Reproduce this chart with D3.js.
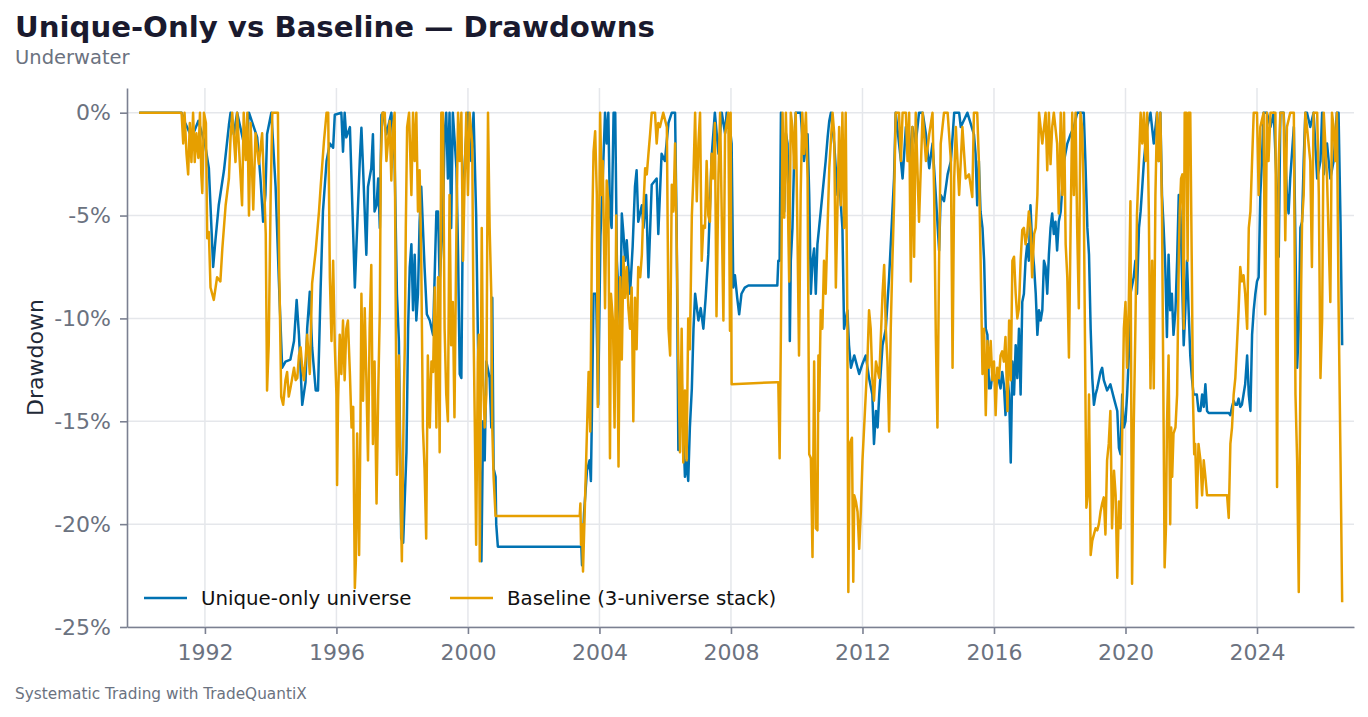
<!DOCTYPE html>
<html>
<head>
  <meta charset="UTF-8" />
  <title>Unique-Only vs Baseline — Drawdowns</title>
  <style>
    body {
      margin: 0;
      background: #ffffff;
      font-family: "DejaVu Sans", sans-serif;
    }

    .grid line {
      stroke: #e5e7eb;
      stroke-width: 1.5;
    }

    .axis path,
    .axis line {
      stroke: #7b8091;
      stroke-width: 1.6;
    }

    .axis text {
      fill: #6b7280;
      font-size: 22px;
      font-family: "DejaVu Sans", sans-serif;
    }

    .dd-line {
      fill: none;
      stroke-width: 2.5;
      stroke-linejoin: round;
    }
  </style>
</head>

<body>
  <svg id="chart" width="1368" height="717"></svg>

  <script src="https://d3js.org/d3.v7.min.js"></script>
  <script>
    // données : [année décimale, drawdown en %]
    const uniqueOnly = [
      [1990.00, 0], [1991.29, 0], [1991.40, -0.5], [1991.60, -1.2], [1991.80, -0.4], [1992.00, -1.5],
      [1992.12, -2.7], [1992.25, -7.5], [1992.32, -6.2], [1992.42, -4.5], [1992.58, -2.8], [1992.73, -0.6],
      [1992.78, 0], [1992.88, -1.05], [1992.98, 0], [1993.24, -1.9], [1993.34, 0], [1993.59, -1.2],
      [1993.69, -3.2], [1993.77, -5.3], [1993.84, -4.0], [1993.89, -1.05], [1994.02, 0], [1994.15, -3.6],
      [1994.25, -8.2], [1994.35, -12.4], [1994.45, -12.1], [1994.60, -12.0], [1994.71, -11.1], [1994.79, -9.1],
      [1994.86, -10.8], [1994.96, -14.2], [1995.06, -13.1], [1995.11, -10.5], [1995.19, -8.7], [1995.26, -11.4],
      [1995.37, -13.5], [1995.44, -13.5], [1995.52, -8.5], [1995.59, -4.8], [1995.70, -2.35], [1995.80, -1.5],
      [1995.90, -1.7], [1995.95, -0.1], [1996.15, 0], [1996.20, -1.9], [1996.25, 0], [1996.30, -1.2],
      [1996.41, -0.7], [1996.46, -3.3], [1996.51, -5.9], [1996.56, -8.5], [1996.61, -6.4], [1996.71, -2.35],
      [1996.76, -0.73], [1996.81, -2.7], [1996.91, -6.9], [1996.96, -3.6], [1997.06, -2.7], [1997.11, -1.05],
      [1997.16, -4.8], [1997.22, -4.5], [1997.27, -3.2], [1997.32, -5.6], [1997.37, -0.1], [1997.42, 0],
      [1997.52, -1.05], [1997.67, 0], [1997.77, -2.35], [1997.84, -8.8], [1997.90, -11.1], [1997.97, -20.7],
      [1998.03, -20.9], [1998.13, -16.5], [1998.18, -10.5], [1998.23, -7.5], [1998.28, -6.4], [1998.33, -9.6],
      [1998.38, -6.9], [1998.43, -10.1], [1998.48, -8.8], [1998.53, -5.3], [1998.58, -3.6], [1998.68, -7.5],
      [1998.75, -9.8], [1998.84, -10.1], [1998.94, -10.8], [1999.04, -4.8], [1999.09, -4.8], [1999.14, -8.2],
      [1999.24, -5.1], [1999.29, -1.05], [1999.34, 0], [1999.39, -3.2], [1999.44, 0], [1999.49, -5.6],
      [1999.54, 0], [1999.65, -2.7], [1999.70, -6.9], [1999.75, -12.7], [1999.80, -12.9], [1999.85, -4.0],
      [1999.95, -1.05], [2000.00, 0], [2000.10, -2.35], [2000.17, 0], [2000.25, -5.0], [2000.33, -14.0],
      [2000.41, -21.8], [2000.46, -15.0], [2000.51, -16.9], [2000.56, -12.1], [2000.66, -12.9], [2000.71, -15.3],
      [2000.74, -9.0], [2000.78, -17.3], [2000.84, -17.7], [2000.86, -20.0], [2000.91, -21.1], [2003.45, -21.1],
      [2003.47, -22.0], [2003.53, -19.5], [2003.62, -17.4], [2003.70, -16.9], [2003.74, -17.9], [2003.77, -14.7],
      [2003.82, -8.8], [2003.90, -8.8], [2003.96, -14.2], [2004.03, -6.0], [2004.10, -3.2], [2004.17, 0],
      [2004.22, -1.5], [2004.27, 0], [2004.32, -5.0], [2004.37, -5.6], [2004.43, 0], [2004.48, 0],
      [2004.53, -7.2], [2004.63, -10.5], [2004.68, -4.9], [2004.73, -5.9], [2004.78, -7.2], [2004.83, -6.2],
      [2004.93, -8.8], [2005.01, -6.5], [2005.08, -3.6], [2005.13, -2.8], [2005.18, -5.3], [2005.29, -4.5],
      [2005.34, -5.6], [2005.42, -4.0], [2005.49, -8.0], [2005.59, -3.5], [2005.74, -3.2], [2005.79, -5.9],
      [2005.89, -2.0], [2005.99, -2.35], [2006.10, -0.5], [2006.20, 0], [2006.30, 0], [2006.35, -6.0],
      [2006.40, -16.4], [2006.50, -13.0], [2006.60, -17.7], [2006.65, -16.9], [2006.70, -17.9], [2006.75, -15.3],
      [2006.81, -13.4], [2006.86, -10.5], [2006.91, -8.8], [2007.01, -10.1], [2007.08, -9.5], [2007.16, -10.5],
      [2007.23, -9.0], [2007.31, -6.9], [2007.41, -2.2], [2007.51, 0], [2007.62, -2.0], [2007.72, 0],
      [2007.82, -1.0], [2007.87, 0], [2007.95, -0.5], [2008.02, -1.5], [2008.07, -8.5], [2008.12, -7.9],
      [2008.19, -9.0], [2008.25, -9.8], [2008.32, -8.8], [2008.42, -8.5], [2008.53, -8.4], [2009.41, -8.4],
      [2009.44, -7.2], [2009.48, -7.2], [2009.52, 0], [2009.57, -1.5], [2009.62, -4.8], [2009.67, -1.0],
      [2009.72, -1.5], [2009.77, -6.0], [2009.79, -11.1], [2009.82, -7.2], [2009.87, -5.6], [2009.92, -2.35],
      [2009.97, 0], [2010.12, 0], [2010.22, -2.35], [2010.33, -1.05], [2010.38, -4.0], [2010.43, -8.8],
      [2010.48, -7.2], [2010.53, -6.6], [2010.58, -8.8], [2010.63, -6.4], [2010.68, -5.6], [2010.73, -4.8],
      [2010.78, -4.0], [2010.88, -2.35], [2010.94, -1.2], [2010.99, -0.4], [2011.04, 0], [2011.14, -1.5],
      [2011.24, -4.0], [2011.29, -3.2], [2011.39, -5.6], [2011.44, -10.5], [2011.54, -9.6], [2011.59, -11.3],
      [2011.65, -12.4], [2011.75, -11.8], [2011.80, -12.1], [2011.90, -12.7], [2012.00, -12.2], [2012.10, -11.8],
      [2012.20, -12.9], [2012.30, -13.7], [2012.35, -16.1], [2012.41, -14.5], [2012.46, -15.3], [2012.51, -13.7],
      [2012.61, -11.3], [2012.71, -10.5], [2012.81, -8.0], [2012.91, -4.8], [2012.96, -3.2], [2013.01, 0],
      [2013.17, -2.35], [2013.22, -3.2], [2013.32, -0.7], [2013.42, -2.35], [2013.52, -0.7], [2013.62, -1.5],
      [2013.72, 0], [2013.83, 0], [2013.93, -1.05], [2014.03, -2.7], [2014.13, -1.5], [2014.23, -4.0],
      [2014.33, -6.7], [2014.38, -4.0], [2014.48, -4.3], [2014.59, -3.0], [2014.69, -2.35], [2014.79, 0],
      [2014.94, 0], [2014.99, -0.7], [2015.19, 0], [2015.39, -1.05], [2015.44, -2.0], [2015.49, -4.5],
      [2015.54, -2.35], [2015.59, -4.8], [2015.65, -5.6], [2015.70, -7.2], [2015.75, -10.5], [2015.80, -10.8],
      [2015.85, -13.4], [2015.90, -13.4], [2015.95, -12.7], [2016.00, -13.0], [2016.10, -12.7], [2016.20, -13.4],
      [2016.25, -12.6], [2016.30, -13.2], [2016.35, -14.7], [2016.41, -12.9], [2016.46, -13.7], [2016.51, -17.0],
      [2016.56, -12.1], [2016.61, -13.7], [2016.66, -11.3], [2016.71, -12.9], [2016.76, -10.5], [2016.81, -13.7],
      [2016.86, -9.2], [2016.91, -8.8], [2016.96, -7.2], [2017.01, -6.4], [2017.06, -7.2], [2017.11, -4.5],
      [2017.16, -6.4], [2017.22, -7.5], [2017.27, -8.8], [2017.32, -10.8], [2017.37, -9.6], [2017.42, -10.1],
      [2017.47, -9.6], [2017.52, -7.2], [2017.57, -7.5], [2017.62, -8.8], [2017.67, -6.9], [2017.72, -5.6],
      [2017.77, -4.9], [2017.82, -5.9], [2017.87, -5.3], [2017.92, -6.7], [2017.97, -5.3], [2018.03, -4.8],
      [2018.13, -2.35], [2018.23, -1.5], [2018.33, -1.05], [2018.43, -0.7], [2018.53, 0], [2018.73, 0],
      [2018.78, -2.35], [2018.84, -5.6], [2018.89, -6.9], [2018.94, -10.5], [2018.99, -12.9], [2019.04, -14.2],
      [2019.09, -13.7], [2019.14, -13.4], [2019.24, -12.6], [2019.29, -12.4], [2019.34, -13.0], [2019.44, -13.5],
      [2019.54, -13.2], [2019.65, -13.9], [2019.75, -14.5], [2019.80, -16.3], [2019.85, -16.6], [2019.90, -13.7],
      [2019.95, -15.3], [2020.00, -15.0], [2020.05, -13.7], [2020.10, -11.8], [2020.15, -8.8], [2020.25, -8.0],
      [2020.30, -7.2], [2020.35, -8.8], [2020.41, -5.6], [2020.46, -4.8], [2020.51, -3.6], [2020.56, -2.35],
      [2020.61, -1.5], [2020.66, -0.7], [2020.76, 0], [2020.86, -1.5], [2020.96, 0], [2021.01, -2.35],
      [2021.06, 0], [2021.11, -4.0], [2021.16, -5.6], [2021.21, -7.5], [2021.26, -10.9], [2021.31, -6.9],
      [2021.36, -9.6], [2021.41, -8.8], [2021.46, -10.8], [2021.52, -9.6], [2021.57, -7.2], [2021.62, -4.0],
      [2021.67, -4.8], [2021.72, -8.0], [2021.77, -11.3], [2021.82, -9.6], [2021.87, -7.2], [2021.92, -9.6],
      [2021.97, -11.8], [2022.02, -12.9], [2022.07, -13.7], [2022.17, -13.7], [2022.22, -14.5], [2022.28, -14.5],
      [2022.33, -13.7], [2022.38, -14.3], [2022.43, -13.2], [2022.48, -14.5], [2022.53, -14.6], [2023.14, -14.6],
      [2023.19, -14.7], [2023.24, -14.3], [2023.29, -14.0], [2023.34, -14.2], [2023.39, -14.2], [2023.44, -13.9],
      [2023.49, -14.3], [2023.54, -14.2], [2023.59, -13.7], [2023.64, -13.2], [2023.70, -11.8], [2023.75, -13.7],
      [2023.80, -14.5], [2023.85, -10.8], [2023.90, -9.6], [2023.95, -8.8], [2024.00, -8.2], [2024.05, -8.0],
      [2024.10, -4.0], [2024.15, -2.35], [2024.20, 0], [2024.30, 0], [2024.41, -0.7], [2024.51, 0],
      [2024.61, -4.0], [2024.66, -7.0], [2024.71, 0], [2024.81, 0], [2024.91, -4.0], [2024.96, -4.9],
      [2025.01, -3.2], [2025.12, -0.7], [2025.22, -12.4], [2025.27, -10.5], [2025.32, -5.6], [2025.37, -5.3],
      [2025.42, -2.35], [2025.47, 0], [2025.52, 0], [2025.62, -0.7], [2025.72, 0], [2025.83, -3.2],
      [2025.93, -2.35], [2025.98, 0], [2026.03, -3.0], [2026.13, -1.5], [2026.23, -3.2], [2026.33, -2.35],
      [2026.43, 0], [2026.48, 0], [2026.54, -5.3], [2026.59, -11.3]
    ];

    const baseline = [
      [1990.00, 0], [1991.29, 0], [1991.34, -1.5], [1991.38, 0], [1991.44, -2.0], [1991.49, -3.0],
      [1991.54, -0.5], [1991.59, -2.4], [1991.64, 0], [1991.69, -2.4], [1991.74, -1.0], [1991.80, -2.2],
      [1991.85, 0], [1991.89, -3.0], [1991.92, -3.9], [1991.97, 0], [1992.03, -0.5], [1992.07, -6.1],
      [1992.12, -5.8], [1992.17, -8.5], [1992.27, -9.1], [1992.37, -8.0], [1992.47, -8.2], [1992.53, -6.6],
      [1992.63, -4.5], [1992.73, -3.2], [1992.78, -1.2], [1992.83, 0], [1992.93, -2.4], [1992.98, 0],
      [1993.13, -4.5], [1993.18, 0], [1993.24, -2.3], [1993.29, 0], [1993.34, -5.0], [1993.39, -0.5],
      [1993.47, -4.7], [1993.54, -1.0], [1993.64, -2.5], [1993.74, -1.0], [1993.81, -4.0], [1993.85, -5.9],
      [1993.89, -13.5], [1993.94, -11.3], [1994.00, -4.0], [1994.05, 0], [1994.22, 0], [1994.26, -7.5],
      [1994.32, -13.8], [1994.38, -14.2], [1994.45, -13.0], [1994.50, -12.6], [1994.55, -13.8], [1994.60, -13.4],
      [1994.71, -12.4], [1994.76, -13.0], [1994.81, -12.9], [1994.86, -11.8], [1994.91, -11.4], [1994.96, -12.4],
      [1995.01, -13.0], [1995.06, -12.0], [1995.11, -10.8], [1995.19, -12.7], [1995.26, -8.3], [1995.37, -6.7],
      [1995.47, -4.8], [1995.52, -3.6], [1995.62, -1.4], [1995.70, 0], [1995.75, 0], [1995.80, -8.0],
      [1995.85, -11.1], [1995.90, -7.2], [1995.95, -11.3], [1996.00, -13.7], [1996.02, -18.1], [1996.05, -14.0],
      [1996.10, -10.8], [1996.15, -12.7], [1996.20, -10.1], [1996.25, -13.0], [1996.30, -10.5], [1996.35, -10.1],
      [1996.41, -12.7], [1996.46, -15.3], [1996.51, -14.3], [1996.56, -23.1], [1996.59, -21.8], [1996.63, -15.6],
      [1996.69, -21.5], [1996.73, -15.3], [1996.76, -8.8], [1996.81, -14.0], [1996.86, -9.5], [1996.91, -12.9],
      [1996.96, -16.9], [1997.01, -10.5], [1997.06, -7.4], [1997.11, -16.1], [1997.16, -12.1], [1997.22, -19.0],
      [1997.27, -13.7], [1997.32, -9.6], [1997.35, -2.35], [1997.40, 0], [1997.47, 0], [1997.52, -2.35],
      [1997.62, -0.4], [1997.67, -3.3], [1997.72, -0.7], [1997.77, 0], [1997.80, -8.8], [1997.84, -17.6],
      [1997.90, -11.8], [1997.94, -17.6], [1997.99, -21.8], [1998.05, -13.7], [1998.08, -11.3], [1998.11, -5.6],
      [1998.15, -0.7], [1998.21, 0], [1998.28, -4.0], [1998.33, 0], [1998.38, -2.35], [1998.43, 0],
      [1998.48, -4.8], [1998.53, -2.8], [1998.58, -7.2], [1998.63, -15.3], [1998.68, -17.3], [1998.73, -20.7],
      [1998.78, -11.8], [1998.84, -15.3], [1998.89, -12.1], [1998.94, -12.6], [1998.99, -8.5], [1999.04, -15.3],
      [1999.09, -8.0], [1999.14, -16.5], [1999.19, 0], [1999.24, 0], [1999.29, -10.5], [1999.34, -13.7],
      [1999.39, -15.0], [1999.44, -4.0], [1999.49, -11.3], [1999.54, -9.2], [1999.59, -14.8], [1999.65, -5.6],
      [1999.70, 0], [1999.75, -2.35], [1999.80, 0], [1999.85, -7.2], [1999.90, -3.2], [1999.95, 0],
      [2000.00, -4.0], [2000.05, 0], [2000.13, -1.5], [2000.17, -10.5], [2000.21, -15.3], [2000.25, -21.0],
      [2000.30, -12.1], [2000.33, -10.8], [2000.36, -21.8], [2000.39, -13.7], [2000.42, -5.6], [2000.46, -12.9],
      [2000.51, -15.3], [2000.56, -13.7], [2000.61, 0], [2000.66, -5.6], [2000.71, -8.8], [2000.74, -15.3],
      [2000.78, -17.7], [2000.84, -19.6], [2003.40, -19.6], [2003.42, -19.0], [2003.44, -21.0], [2003.47, -20.0],
      [2003.50, -22.3], [2003.55, -19.5], [2003.67, -12.6], [2003.72, -15.5], [2003.77, -6.4], [2003.82, -1.9],
      [2003.87, -0.9], [2003.92, -4.0], [2003.95, -14.3], [2003.99, -6.0], [2004.02, 0], [2004.07, -4.0],
      [2004.10, -2.35], [2004.17, -9.5], [2004.22, -3.3], [2004.27, -4.3], [2004.32, -16.8], [2004.35, -8.8],
      [2004.41, -10.1], [2004.46, -15.3], [2004.51, -5.0], [2004.58, -17.2], [2004.63, -8.0], [2004.68, -12.0],
      [2004.73, -7.0], [2004.78, -9.0], [2004.83, -7.5], [2004.88, -9.5], [2004.93, -10.5], [2004.98, -8.5],
      [2005.03, -15.0], [2005.08, -9.0], [2005.13, -11.5], [2005.18, -7.5], [2005.24, -8.0], [2005.29, -6.9],
      [2005.34, -4.5], [2005.39, -2.7], [2005.44, -3.0], [2005.49, -2.0], [2005.54, -1.05], [2005.59, 0],
      [2005.69, 0], [2005.74, -1.5], [2005.79, -0.5], [2005.84, -0.7], [2005.94, 0], [2006.05, -0.7],
      [2006.10, -10.5], [2006.15, -11.8], [2006.20, -3.5], [2006.25, -4.8], [2006.30, -1.5], [2006.35, -6.4],
      [2006.40, -12.0], [2006.45, -16.5], [2006.50, -10.5], [2006.55, -17.0], [2006.60, -13.5], [2006.65, -16.9],
      [2006.70, -10.0], [2006.75, -11.5], [2006.81, -5.0], [2006.86, -3.0], [2006.91, 0], [2006.96, -4.3],
      [2007.01, -1.5], [2007.06, 0], [2007.11, -7.2], [2007.16, -5.5], [2007.21, -5.6], [2007.26, -2.35],
      [2007.31, -5.0], [2007.36, -5.3], [2007.41, -2.0], [2007.46, -3.2], [2007.51, -0.5], [2007.56, -9.9],
      [2007.62, -3.0], [2007.67, 0], [2007.77, -10.1], [2007.82, -1.05], [2007.92, 0], [2007.97, -10.6],
      [2007.99, 0], [2008.02, -13.2], [2009.40, -13.1], [2009.44, -13.1], [2009.48, -16.8], [2009.52, -10.5],
      [2009.57, 0], [2009.62, -5.1], [2009.67, 0], [2009.72, -3.2], [2009.77, -8.2], [2009.82, 0],
      [2009.87, -0.7], [2009.92, -2.7], [2009.97, 0], [2010.02, -5.6], [2010.07, -11.8], [2010.12, -4.0],
      [2010.17, 0], [2010.22, -2.0], [2010.28, 0], [2010.33, -3.2], [2010.38, -16.6], [2010.43, -16.8],
      [2010.48, -21.6], [2010.53, -12.1], [2010.58, -20.2], [2010.63, -20.3], [2010.66, -11.8], [2010.68, -14.5],
      [2010.73, -9.6], [2010.78, -10.5], [2010.83, -7.2], [2010.88, -8.8], [2010.99, -2.7], [2011.09, 0],
      [2011.14, -1.0], [2011.19, -8.5], [2011.29, -0.7], [2011.34, -4.5], [2011.39, 0], [2011.44, -5.6],
      [2011.49, 0], [2011.54, -10.1], [2011.57, -23.3], [2011.61, -16.1], [2011.68, -15.8], [2011.72, -22.8],
      [2011.75, -18.6], [2011.80, -18.9], [2011.85, -19.4], [2011.90, -21.2], [2011.95, -19.4], [2012.00, -16.9],
      [2012.05, -15.3], [2012.10, -13.7], [2012.15, -12.1], [2012.20, -9.6], [2012.25, -10.5], [2012.30, -12.9],
      [2012.35, -14.0], [2012.41, -12.1], [2012.51, -12.9], [2012.61, -8.8], [2012.66, -7.4], [2012.71, -10.5],
      [2012.76, -12.1], [2012.81, -15.5], [2012.86, -10.5], [2012.91, -7.2], [2012.96, -4.5], [2013.01, 0],
      [2013.11, 0], [2013.17, -2.35], [2013.22, 0], [2013.32, 0], [2013.37, -2.35], [2013.42, 0],
      [2013.47, -8.2], [2013.52, -0.7], [2013.57, -7.0], [2013.62, 0], [2013.72, -5.3], [2013.83, 0],
      [2013.93, -2.35], [2014.03, -1.05], [2014.13, 0], [2014.18, -4.0], [2014.23, -10.8], [2014.28, -15.3],
      [2014.33, -7.2], [2014.38, -1.5], [2014.48, 0], [2014.59, 0], [2014.69, -2.35], [2014.74, -12.4],
      [2014.79, -3.2], [2014.84, -0.7], [2014.94, -4.0], [2015.04, -0.7], [2015.14, -3.2], [2015.24, -3.0],
      [2015.34, -4.1], [2015.39, 0], [2015.49, 0], [2015.54, -2.35], [2015.59, -6.9], [2015.65, -12.7],
      [2015.70, -10.5], [2015.75, -14.7], [2015.80, -11.1], [2015.85, -12.4], [2015.90, -11.1], [2015.95, -13.0],
      [2016.00, -12.1], [2016.05, -14.7], [2016.10, -12.4], [2016.15, -12.9], [2016.20, -11.8], [2016.25, -11.6],
      [2016.30, -12.1], [2016.35, -10.9], [2016.41, -14.5], [2016.46, -10.1], [2016.51, -13.0], [2016.56, -7.2],
      [2016.61, -7.0], [2016.66, -8.8], [2016.71, -10.0], [2016.76, -9.5], [2016.81, -7.2], [2016.86, -5.7],
      [2016.91, -5.6], [2016.96, -6.4], [2017.01, -5.9], [2017.06, -4.8], [2017.11, -5.6], [2017.16, -8.0],
      [2017.22, -5.9], [2017.27, -5.6], [2017.32, -4.0], [2017.37, 0], [2017.47, -1.5], [2017.57, 0],
      [2017.62, -2.8], [2017.67, 0], [2017.72, -2.5], [2017.77, -0.7], [2017.82, 0], [2017.92, -1.5],
      [2017.97, -4.9], [2018.03, 0], [2018.08, -4.0], [2018.13, 0], [2018.18, -6.4], [2018.23, -8.0],
      [2018.28, -11.9], [2018.33, -5.6], [2018.38, 0], [2018.43, -4.0], [2018.48, 0], [2018.53, -5.6],
      [2018.58, -9.5], [2018.63, 0], [2018.68, -0.7], [2018.73, -4.0], [2018.78, -13.4], [2018.81, -19.2],
      [2018.85, -18.6], [2018.89, -13.7], [2018.94, -21.5], [2018.99, -20.8], [2019.04, -20.5], [2019.09, -20.2],
      [2019.14, -20.3], [2019.19, -20.0], [2019.24, -19.4], [2019.29, -19.0], [2019.34, -18.7], [2019.39, -20.5],
      [2019.44, -16.9], [2019.49, -16.1], [2019.54, -14.5], [2019.59, -20.2], [2019.65, -17.4], [2019.70, -18.6],
      [2019.75, -22.6], [2019.80, -18.9], [2019.85, -20.2], [2019.90, -15.6], [2019.95, -10.5], [2020.00, -9.2],
      [2020.05, -12.4], [2020.10, -9.3], [2020.15, -4.3], [2020.17, -12.1], [2020.20, -22.9], [2020.25, -15.3],
      [2020.30, -10.5], [2020.35, -4.9], [2020.41, -2.35], [2020.46, 0], [2020.51, -1.5], [2020.56, 0],
      [2020.61, -2.35], [2020.66, 0], [2020.71, -4.8], [2020.76, -13.4], [2020.81, -7.2], [2020.86, -13.4],
      [2020.91, -4.0], [2020.96, 0], [2021.01, -2.35], [2021.06, 0], [2021.11, -4.8], [2021.16, -15.3],
      [2021.19, -22.1], [2021.23, -20.2], [2021.26, -15.3], [2021.31, -11.8], [2021.34, -16.9], [2021.36, -20.0],
      [2021.39, -15.3], [2021.42, -17.7], [2021.46, -15.6], [2021.52, -15.3], [2021.57, -13.7], [2021.62, -7.2],
      [2021.65, -4.8], [2021.69, -3.2], [2021.73, -3.0], [2021.77, -10.5], [2021.80, 0], [2021.85, 0],
      [2021.89, -7.2], [2021.92, 0], [2021.97, 0], [2022.02, -8.0], [2022.05, -13.7], [2022.09, -16.6],
      [2022.12, -16.1], [2022.17, -19.2], [2022.22, -16.1], [2022.28, -16.9], [2022.33, -18.6], [2022.38, -16.9],
      [2022.43, -17.7], [2022.48, -18.6], [2023.09, -18.6], [2023.14, -19.7], [2023.19, -16.1], [2023.24, -15.3],
      [2023.29, -13.7], [2023.34, -12.9], [2023.39, -11.3], [2023.44, -9.6], [2023.49, -7.5], [2023.54, -8.2],
      [2023.59, -7.9], [2023.64, -8.8], [2023.70, -10.5], [2023.75, -5.6], [2023.80, -4.8], [2023.85, -2.35],
      [2023.90, 0], [2024.00, 0], [2024.05, -4.0], [2024.10, -0.7], [2024.20, 0], [2024.25, -9.8],
      [2024.30, 0], [2024.35, -2.35], [2024.41, 0], [2024.56, 0], [2024.61, -18.2], [2024.66, -2.35],
      [2024.71, 0], [2024.81, 0], [2024.86, -6.2], [2024.91, -0.7], [2025.01, 0], [2025.12, 0],
      [2025.17, -13.7], [2025.22, -16.9], [2025.27, -23.3], [2025.30, -16.9], [2025.34, -8.8], [2025.37, -5.3],
      [2025.42, -4.0], [2025.47, 0], [2025.52, -0.7], [2025.62, -2.35], [2025.67, -7.5], [2025.72, 0],
      [2025.83, 0], [2025.88, -4.0], [2025.93, -12.9], [2025.98, -10.1], [2026.03, 0], [2026.13, -3.2],
      [2026.23, -9.2], [2026.28, 0], [2026.33, -0.7], [2026.38, -2.35], [2026.43, 0], [2026.48, -9.2],
      [2026.54, -16.9], [2026.59, -23.8]
    ];

    const seriesNames = ["Unique-only universe", "Baseline (3-universe stack)"];
    const seriesColors = ["#0072B2", "#E69F00"];
    const xTickYears = [1992, 1996, 2000, 2004, 2008, 2012, 2016, 2020, 2024];
    const yTickValues = [0, -5, -10, -15, -20, -25];

    const svg = d3.select("#chart");

    const margin = { top: 88, right: 14, bottom: 90, left: 127 };
    const W = 1368, H = 717;

    const x = d3.scaleLinear()
      .domain([1989.63, 2026.95])
      .range([margin.left, W - margin.right]);

    const y = d3.scaleLinear()
      .domain([-25, 1.2])
      .range([H - margin.bottom, margin.top]);

    // titres
    svg.append("text")
      .attr("x", 15).attr("y", 37)
      .attr("font-size", 29.2).attr("font-weight", "bold")
      .attr("fill", "#1a1a2e")
      .text("Unique-Only vs Baseline — Drawdowns");

    svg.append("text")
      .attr("x", 15).attr("y", 64)
      .attr("font-size", 19.5)
      .attr("fill", "#6b7280")
      .text("Underwater");

    svg.append("text")
      .attr("x", 15).attr("y", 699)
      .attr("font-size", 15.3)
      .attr("fill", "#6b7280")
      .text("Systematic Trading with TradeQuantiX");

    // grille
    const grid = svg.append("g").attr("class", "grid");
    grid.selectAll(".gx")
      .data(xTickYears)
      .enter().append("line")
      .attr("x1", d => x(d)).attr("x2", d => x(d))
      .attr("y1", margin.top).attr("y2", H - margin.bottom);
    grid.selectAll(".gy")
      .data(yTickValues)
      .enter().append("line")
      .attr("x1", margin.left).attr("x2", W - margin.right)
      .attr("y1", d => y(d)).attr("y2", d => y(d));

    // courbes
    const line = d3.line()
      .x(d => x(d[0]))
      .y(d => y(d[1]));

    [uniqueOnly, baseline].forEach((data, i) => {
      svg.append("path")
        .datum(data)
        .attr("class", "dd-line")
        .attr("stroke", seriesColors[i])
        .attr("d", line);
    });

    // axes
    svg.append("g")
      .attr("class", "axis")
      .attr("transform", `translate(${margin.left},0)`)
      .call(d3.axisLeft(y)
        .tickValues(yTickValues)
        .tickFormat(d => d + "%")
        .tickSize(7)
        .tickSizeOuter(0)
        .tickPadding(9));

    svg.append("g")
      .attr("class", "axis")
      .attr("transform", `translate(0,${H - margin.bottom})`)
      .call(d3.axisBottom(x)
        .tickValues(xTickYears)
        .tickFormat(d3.format("d"))
        .tickSize(7)
        .tickSizeOuter(0)
        .tickPadding(10));

    svg.append("text")
      .attr("transform", `translate(43,${(margin.top + H - margin.bottom) / 2}) rotate(-90)`)
      .attr("text-anchor", "middle")
      .attr("font-size", 22)
      .attr("fill", "#1f2937")
      .text("Drawdown");

    // légende
    const legendX = [144, 450];
    const legend = svg.append("g");
    seriesNames.forEach((name, i) => {
      legend.append("line")
        .attr("x1", legendX[i]).attr("x2", legendX[i] + 43)
        .attr("y1", 598).attr("y2", 598)
        .attr("stroke", seriesColors[i])
        .attr("stroke-width", 2.5);
      legend.append("text")
        .attr("x", legendX[i] + 57).attr("y", 605)
        .attr("font-size", 19.8)
        .attr("fill", "#111111")
        .text(name);
    });
  </script>
</body>

</html>
